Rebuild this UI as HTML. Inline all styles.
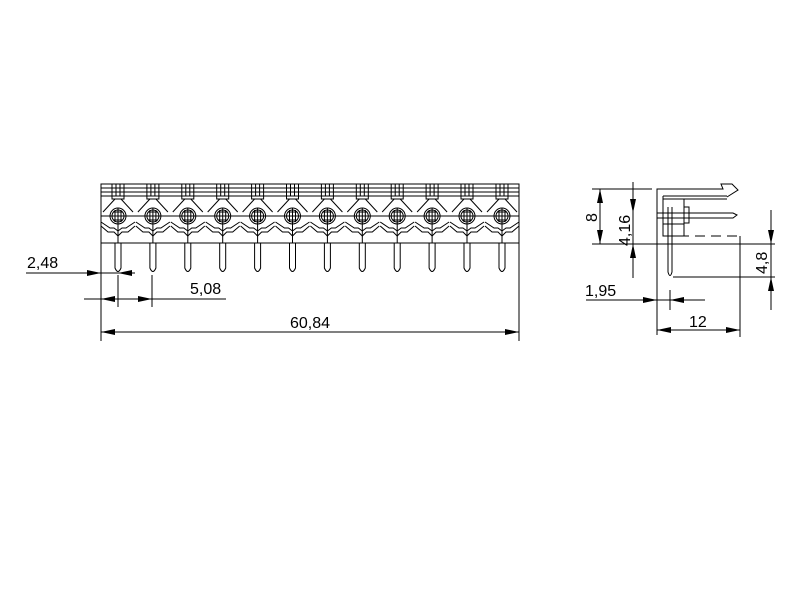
<!DOCTYPE html>
<html><head><style>body{margin:0;background:#fff}svg{display:block}text{font-family:"Liberation Sans",sans-serif;font-size:16px;fill:#000}</style></head><body>
<svg width="800" height="600" viewBox="0 0 800 600" xmlns="http://www.w3.org/2000/svg">
<defs>
<g id="u" fill="none" stroke="#000" stroke-width="1">
<rect x="-6" y="184" width="12" height="12"/>
<line x1="-2" y1="184" x2="-2" y2="196"/><line x1="2" y1="184" x2="2" y2="196"/>
<rect x="-6" y="196" width="12" height="3"/>
<line x1="-3" y1="199" x2="-15" y2="212"/><line x1="3" y1="199" x2="15" y2="212"/>
<circle cx="0" cy="216" r="8"/><circle cx="0" cy="216" r="6"/>
<line x1="-5" y1="212" x2="5" y2="212"/><line x1="-6" y1="216" x2="6" y2="216"/><line x1="-5" y1="220" x2="5" y2="220"/>
<line x1="-3" y1="210" x2="-3" y2="222"/><line x1="0" y1="208" x2="0" y2="243"/><line x1="3" y1="210" x2="3" y2="222"/>
<polyline points="-17,226 -10,232 -4,232 0,236 4,232 10,232 17,226"/>
<polyline points="-17,222 -8,228 -4,228 0,231 4,228 8,228 17,222"/>
<path d="M-3,243 V268 Q0,275 3,268 V243"/>
</g>
<g id="ar"><polygon points="0,0 -14,-3 -14,3" fill="#000"/></g>
</defs>
<g fill="none" stroke="#000" stroke-width="1">
<rect x="101" y="184" width="418" height="59"/>
<line x1="101" y1="188" x2="519" y2="188"/><line x1="101" y1="192" x2="519" y2="192"/><line x1="101" y1="196" x2="519" y2="196"/>
<line x1="101" y1="216" x2="519" y2="216"/>
</g>
<use href="#u" x="118"/><use href="#u" x="152.9"/><use href="#u" x="187.8"/><use href="#u" x="222.7"/><use href="#u" x="257.6"/><use href="#u" x="292.5"/><use href="#u" x="327.4"/><use href="#u" x="362.3"/><use href="#u" x="397.2"/><use href="#u" x="432.1"/><use href="#u" x="467"/><use href="#u" x="502"/>
<g stroke="#000" stroke-width="1" fill="none">
<line x1="101" y1="243" x2="101" y2="341"/><line x1="519" y1="243" x2="519" y2="341"/>
<line x1="118" y1="275" x2="118" y2="307"/><line x1="152" y1="275" x2="152" y2="307"/>
<line x1="26" y1="273" x2="135" y2="273"/>
<line x1="84" y1="299" x2="226" y2="299"/>
<line x1="101" y1="332" x2="519" y2="332"/>
</g>
<use href="#ar" transform="translate(101,273)"/><use href="#ar" transform="translate(118,273) rotate(180)"/>
<use href="#ar" transform="translate(101,299) rotate(180)"/><use href="#ar" transform="translate(152,299)"/>
<use href="#ar" transform="translate(101,332) rotate(180)"/><use href="#ar" transform="translate(519,332)"/>
<text x="27" y="268">2,48</text><text x="190" y="294">5,08</text><text x="290" y="328">60,84</text>
<!-- side view -->
<g stroke="#000" stroke-width="1" fill="none">
<line x1="592" y1="189" x2="652" y2="189"/>
<polyline points="657,335 657,189 723,189 721,184 732,184 738,190 727,197"/>
<line x1="663" y1="196" x2="663" y2="236"/>
<line x1="663" y1="196" x2="727" y2="196"/>
<line x1="663" y1="199" x2="727" y2="199"/>
<rect x="663" y="199" width="21" height="37"/>
<path d="M684,207 h5 v16 h-5"/>
<line x1="663" y1="213" x2="684" y2="213"/><line x1="663" y1="224" x2="684" y2="224"/>
<polyline points="657,213 733,213 737,215 733,218 657,218"/>
<line x1="663" y1="236" x2="740" y2="236" stroke-dasharray="10,6"/>
<line x1="740" y1="236" x2="740" y2="337"/>
<line x1="592" y1="244" x2="775" y2="244"/>
<path d="M668,207 V272 Q670,279 672,272 V207"/>
<line x1="673" y1="277" x2="775" y2="277"/>
<line x1="600" y1="189" x2="600" y2="244"/>
<line x1="633" y1="182" x2="633" y2="278"/>
<line x1="771" y1="210" x2="771" y2="310"/>
<line x1="586" y1="300" x2="705" y2="300"/>
<line x1="670" y1="290" x2="670" y2="310"/>
<line x1="657" y1="330" x2="740" y2="330"/>
</g>
<use href="#ar" transform="translate(600,189) rotate(-90)"/><use href="#ar" transform="translate(600,244) rotate(90)"/>
<use href="#ar" transform="translate(633,213) rotate(90)"/><use href="#ar" transform="translate(633,244) rotate(-90)"/>
<use href="#ar" transform="translate(771,244) rotate(90)"/><use href="#ar" transform="translate(771,277) rotate(-90)"/>
<use href="#ar" transform="translate(657,300)"/><use href="#ar" transform="translate(670,300) rotate(180)"/>
<use href="#ar" transform="translate(657,330) rotate(180)"/><use href="#ar" transform="translate(740,330)"/>
<text x="585" y="296">1,95</text><text x="689" y="327">12</text>
<text transform="translate(597,222) rotate(-90)">8</text>
<text transform="translate(630,246) rotate(-90)">4,16</text>
<text transform="translate(767,274) rotate(-90)">4,8</text>
</svg>
</body></html>
